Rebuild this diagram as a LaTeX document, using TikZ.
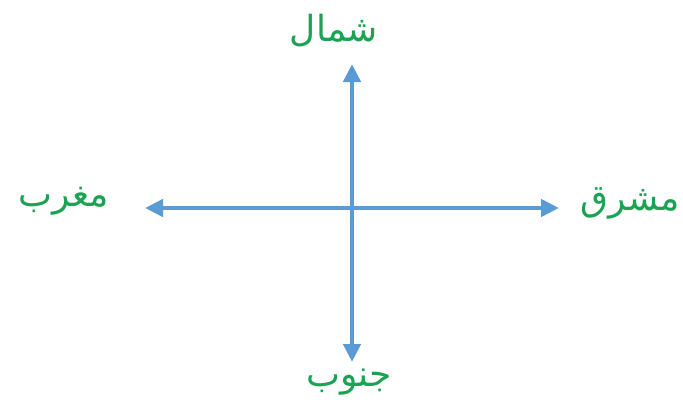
\documentclass[tikz,border=0pt]{standalone}
\usepackage{fontspec}
\newfontfamily\arabicfont[Script=Arabic]{DejaVu Sans}
\TeXXeTstate=1
\usepackage{xcolor}
\usetikzlibrary{arrows.meta}
\definecolor{axisblue}{HTML}{5B9BD5}
\definecolor{labelgreen}{HTML}{1AA352}

\begin{document}
\begin{tikzpicture}[
  x=1pt,y=-1pt,
  axis/.style ={line width=4.5pt,color=axisblue,
                -{Triangle[length=18pt,width=17pt]}},
  dir/.style  ={font=\arabicfont\fontsize{36}{40}\selectfont,
                text=labelgreen,inner sep=0pt}
]
\useasboundingbox (0,0) rectangle (683,408);
\coordinate (c) at (352,208);
\coordinate (n) at (352,64);
\coordinate (s) at (352,362);
\coordinate (e) at (559,208);
\coordinate (w) at (145,208);
\foreach \t in {n,s,e,w}
  \draw[axis](c)--(\t);
\node[dir] (north) at (334,31) {\beginR شمال\endR};
\node[dir] (west)  at (64,201) {\beginR مغرب\endR};
\node[dir] (east)  at (630,203){\beginR مشرق\endR};
\node[dir] (south) at (349,382){\beginR جنوب\endR};
\end{tikzpicture}
\end{document}
